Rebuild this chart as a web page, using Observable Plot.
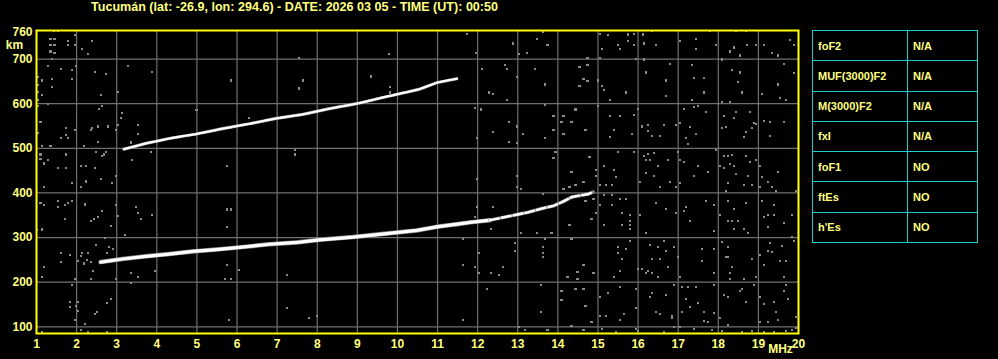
<!DOCTYPE html>
<html><head><meta charset="utf-8">
<script src="https://cdn.jsdelivr.net/npm/d3@7"></script>
<script src="https://cdn.jsdelivr.net/npm/@observablehq/plot@0.6"></script>
<style>
html,body{margin:0;padding:0;background:#000;}
#wrap{position:relative;width:998px;height:359px;overflow:hidden;background:#000;font-family:"Liberation Sans",Arial,sans-serif;font-weight:bold;color:#ffff80;}
#title{position:absolute;left:0;top:0;white-space:nowrap;font-size:12px;line-height:14px;transform-origin:0 0;}
#tbl{position:absolute;left:812px;top:30px;border-collapse:collapse;width:166px;height:213px;}
#tbl td{border:1px solid #20d0d0;font-size:11px;padding:0 0 0 5px;height:29px;color:#ffff80;}
#chart{position:absolute;left:0;top:0;}
</style></head>
<body><div id="wrap"><div id="chart"></div><div id="title"></div><table id="tbl"></table></div>
<script>
const titleText = "Tucumán (lat: -26.9, lon: 294.6) - DATE: 2026 03 05 - TIME (UT): 00:50";
const xTicks = [1,2,3,4,5,6,7,8,9,10,11,12,13,14,15,16,17,18,19,20];
const yGrid = [100,200,300,400,500,600,700];
const yTicks = [100,200,300,400,500,600,700,760];
const tableNames = ["foF2","MUF(3000)F2","M(3000)F2","fxI","foF1","ftEs","h'Es"];
const tableValues = ["N/A","N/A","N/A","N/A","NO","NO","NO"];

// F-layer echo traces (MHz, km)
const traceLowF = [2.60,3.14,3.73,4.31,4.89,5.48,6.06,6.81,7.48,8.06,8.89,9.73,10.48,10.98,11.48,11.81,12.31];
const traceLowH = [245,252,258,263,269,273,278,285,289,295,301,309,316,324,330,334,339];
const traceTailF = [12.31,12.96,13.23,13.60,13.89,14.14,14.35,14.73,14.88];
const traceTailH = [339,351,356,365,371,381,391,397,402];
const traceHighF = [3.18,3.73,4.31,4.98,5.64,6.31,6.98,7.64,8.31,8.98,9.64,10.14,10.53,10.98,11.48];
const traceHighH = [498,511,522,532,544,555,567,576,589,600,614,624,632,647,656];

// scattered noise echoes (MHz, km)
const noise = [
[1.43,762],[1.54,762],[1.96,753],[1.35,744],[1.45,744],[1.79,740],[1.35,731],[1.45,731],[1.79,731],[1.96,731],[2.14,722],[2.29,712],[1.35,717],[1.45,714],[2.39,740],[1.39,701],[1.29,684],[1.60,678],[1.89,675],[1.99,684],[2.46,671],[2.74,666],[3.29,684],[3.89,671],[1.04,660],[1.14,652],[1.39,656],[1.89,655],[1.39,637],[1.04,641],[1.04,626],[1.14,620],[1.29,600],[1.04,608],[1.04,595],[2.60,620],[3.04,626],[2.56,589],[2.64,594],[3.14,580],[3.10,567],[3.04,553],[1.10,558],[1.04,535],[1.74,546],[1.96,541],[1.74,529],[1.60,523],[1.79,523],[2.35,541],[2.39,546],[2.54,549],[2.79,549],[2.98,541],[3.54,552],[3.54,533],[2.54,514],[2.18,505],[1.14,505],[1.35,505],[1.74,486],[1.10,486],[1.10,477],[1.29,473],[1.19,466],[3.35,513],[3.85,491],[3.39,473],[2.49,491],[2.68,486],[2.64,482],[2.73,492],[1.54,455],[1.74,455],[2.10,460],[2.24,460],[2.46,455],[2.60,432],[2.24,427],[2.99,438],[4.99,585],[5.85,652],[6.29,567],[7.54,703],[7.64,652],[7.54,634],[7.45,496],[7.45,486],[5.74,460],[9.79,712],[9.35,661],[9.81,637],[9.81,625],
[11.74,757],[13.64,760],[15.04,757],[15.24,753],[15.74,755],[15.89,757],[16.12,755],[16.35,762],[17.79,762],[18.44,762],[18.69,762],[12.89,735],[13.49,744],[13.74,731],[13.04,712],[13.24,714],[11.96,713],[14.74,703],[15.04,703],[15.10,723],[15.49,731],[15.54,723],[15.74,740],[15.89,731],[16.14,735],[16.44,731],[17.04,740],[17.44,744],[17.44,722],[17.94,731],[18.29,717],[18.39,726],[18.54,708],[18.71,731],[18.94,731],[19.14,731],[19.34,713],[19.49,708],[19.79,742],[19.89,731],[15.94,701],[16.14,699],[18.09,699],[12.11,678],[12.69,686],[12.74,678],[13.44,678],[12.99,660],[13.69,643],[14.54,682],[14.64,656],[14.74,650],[14.54,639],[14.74,687],[14.99,652],[15.09,639],[15.14,630],[15.29,608],[15.69,625],[16.19,670],[16.69,652],[16.79,688],[16.69,617],[17.34,686],[17.39,657],[17.64,657],[17.64,625],[17.34,608],[18.34,675],[18.54,670],[18.49,648],[18.59,625],[18.09,603],[18.29,603],[19.09,621],[19.49,643],[19.54,612],[19.64,688],[19.69,608],[19.89,668],[12.29,625],[12.39,621],[12.74,608],[11.94,590],[12.09,587],[13.69,598],[13.89,572],[14.14,572],[14.34,558],[14.09,558],[14.44,587],[14.69,541],[14.99,594],[15.29,573],[15.54,573],[15.89,575],[15.99,588],[15.39,541],[15.29,525],[15.84,532],[16.24,552],[16.24,538],[16.09,549],[16.64,552],[16.94,552],[16.34,527],[16.54,527],[17.14,589],[17.39,592],[17.49,595],[17.69,581],[17.29,547],[17.44,532],[17.19,523],[17.24,509],[17.04,556],[18.14,572],[18.39,567],[18.44,581],[18.79,581],[18.19,547],[18.09,545],[18.69,536],[18.84,545],[18.64,525],[18.89,557],[18.94,554],[19.14,561],[19.29,558],[19.64,558],[19.29,527],[13.14,532],[12.79,558],[12.39,536],[12.99,549],[12.79,514],[13.69,523],[13.89,541],[14.14,532],[11.99,523],[11.99,432],[12.99,438],[12.99,511],[13.94,491],[13.89,478],[14.79,480],[15.49,491],[15.89,491],[16.14,482],[16.24,487],[16.39,489],[16.19,473],[16.29,473],[16.49,460],[16.74,473],[16.99,491],[17.04,473],[17.14,469],[17.49,460],[17.94,496],[18.14,482],[18.24,482],[18.34,485],[18.69,482],[18.29,465],[18.39,460],[18.14,456],[18.04,460],[18.79,469],[18.94,473],[19.04,460],[14.34,447],[14.94,451],[15.14,460],[15.39,451],[15.44,435],[14.94,438],[16.19,444],[16.39,438],[17.39,438],[17.74,447],[18.44,442],[18.74,438],[19.09,435],[19.49,447],
[1.19,413],[1.89,422],[2.10,413],[2.24,424],[2.89,422],[1.10,377],[1.19,372],[1.54,382],[1.54,368],[1.70,373],[1.79,377],[1.89,382],[2.20,374],[2.99,373],[3.49,368],[2.64,359],[2.54,346],[2.44,342],[2.35,337],[3.04,348],[3.54,355],[3.61,342],[3.89,351],[1.70,342],[2.85,326],[1.14,318],[1.01,316],[3.20,306],[2.70,299],[2.49,283],[2.81,278],[2.91,274],[2.75,265],[1.60,266],[1.84,261],[1.60,245],[2.14,266],[2.10,258],[2.29,266],[2.27,249],[2.19,242],[2.35,245],[2.04,248],[1.19,234],[1.14,212],[1.95,207],[2.35,207],[2.40,225],[2.99,207],[3.35,221],[3.54,212],[3.35,198],[3.95,225],[1.89,194],[1.84,156],[1.84,145],[2.04,156],[2.04,136],[1.99,146],[2.75,154],[2.85,163],[2.50,134],[2.45,129],[1.95,116],[2.20,107],[2.10,93],[2.29,88],[2.75,88],[1.14,89],[5.75,363],[5.85,363],[5.75,324],[5.75,239],[6.04,228],[5.70,207],[5.85,207],[7.25,216],[7.25,143],[7.79,120],[7.99,125],[5.79,116],
[13.09,409],[12.99,413],[14.14,409],[14.29,413],[14.44,418],[14.64,424],[15.04,418],[15.19,418],[15.34,418],[16.04,424],[16.54,413],[16.79,424],[16.94,413],[17.04,422],[18.24,422],[18.64,418],[18.84,418],[19.04,413],[19.24,424],[19.34,413],[19.44,404],[19.94,404],[13.64,398],[14.74,396],[15.14,395],[15.34,395],[14.89,386],[14.69,382],[15.04,373],[15.34,373],[15.54,386],[15.69,386],[16.44,377],[16.69,364],[17.19,368],[17.14,359],[17.69,382],[17.89,373],[18.24,382],[18.39,364],[18.69,377],[19.09,382],[19.39,373],[18.19,404],[18.04,350],[18.24,337],[18.34,337],[18.49,337],[18.39,319],[18.64,319],[18.74,310],[19.14,346],[19.24,350],[19.39,350],[19.24,324],[19.64,333],[19.84,350],[19.84,301],[17.89,315],[17.29,337],[16.94,355],[16.19,310],[15.79,350],[15.79,337],[15.79,328],[15.79,319],[15.59,355],[16.04,350],[15.59,328],[15.14,328],[14.84,342],[14.94,355],[14.29,328],[13.84,310],[13.49,310],[13.09,310],[12.34,319],[11.94,346],[11.99,368],[12.39,368],[11.64,297],[14.34,297],[13.69,297],[12.94,288],[12.94,270],[12.04,266],[13.64,279],[13.64,266],[13.64,257],[11.64,239],[11.94,234],[12.64,234],[12.34,221],[12.54,216],[12.04,221],[14.64,239],[14.49,223],[14.49,207],[14.24,212],[14.89,221],[15.49,279],[15.49,266],[15.59,252],[15.69,274],[15.79,292],[15.54,225],[15.39,212],[15.54,190],[15.99,230],[16.09,230],[16.19,221],[16.29,283],[16.34,252],[16.49,279],[16.54,252],[16.64,292],[16.69,270],[16.74,234],[16.89,279],[16.99,257],[16.24,225],[16.34,221],[16.49,212],[17.04,212],[17.59,274],[17.59,248],[17.89,274],[17.89,221],[18.09,290],[18.24,279],[18.19,257],[18.24,257],[18.34,234],[18.29,221],[18.29,207],[18.64,207],[18.84,252],[18.94,212],[19.14,239],[19.24,270],[19.34,268],[19.54,248],[19.59,281],[19.64,212],[19.69,248],[19.89,292],[19.29,288],[19.04,261],[12.24,185],[13.59,193],[14.09,181],[14.44,185],[14.64,185],[15.04,167],[15.24,176],[15.94,185],[15.94,143],[15.64,129],[15.04,125],[15.19,125],[15.54,116],[14.84,111],[14.69,147],[14.34,102],[13.59,134],[14.09,161],[11.64,116],[13.04,100],[13.19,93],[13.74,93],[16.29,167],[16.34,176],[16.69,172],[16.89,194],[17.09,190],[17.24,190],[17.44,190],[17.19,163],[17.29,145],[16.84,125],[16.84,120],[17.09,134],[16.54,129],[16.44,134],[17.49,154],[17.64,134],[17.89,131],[17.74,111],[17.89,194],[18.14,172],[18.24,167],[18.54,181],[18.59,185],[18.69,156],[18.89,194],[19.04,167],[19.14,151],[19.39,156],[19.64,181],[19.69,194],[19.74,163],[19.44,134],[19.49,116],[19.24,111],[19.04,111],[18.24,105],[18.04,120],[17.64,113],[16.89,100],[17.04,100],[17.39,96],[17.84,93],[18.09,91],[18.59,89],[18.84,91],[19.14,89],[19.39,89],[19.69,91],[19.84,93],[19.94,98],[19.94,122],[14.64,93],[15.09,96],[15.44,89],[16.64,89],[15.94,96],[15.99,91]
];

const lowData = traceLowF.map((f,i)=>({f, h: traceLowH[i]}));
const tailData = traceTailF.map((f,i)=>({f, h: traceTailH[i]}));
const highData = traceHighF.map((f,i)=>({f, h: traceHighH[i]}));
const noiseData = noise.map(([f,h])=>({f,h}));

const YEL = "#ffff80";
const plot = Plot.plot({
  width: 998, height: 359,
  marginLeft: 36, marginRight: 200, marginTop: 30, marginBottom: 26,
  style: {background: "#000", color: YEL, fontFamily: "'Liberation Sans', Arial, sans-serif", fontWeight: "bold", fontSize: "12px"},
  x: {domain: [1, 20]},
  y: {domain: [85, 764]},
  marks: [
    Plot.gridX(xTicks, {stroke: "#707070", strokeOpacity: 1, strokeWidth: 1.2}),
    Plot.gridY(yGrid, {stroke: "#707070", strokeOpacity: 1, strokeWidth: 1.2}),
    Plot.dot(noiseData, {x: "f", y: "h", symbol: "square", r: 1.2, fill: "#8a8a8a", stroke: null, shapeRendering: "crispEdges"}),
    Plot.line(lowData, {x: "f", y: "h", stroke: "#888", strokeWidth: 4.5}),
    Plot.line(lowData, {x: "f", y: "h", stroke: "#fff", strokeWidth: 3.2}),
    Plot.line(tailData, {x: "f", y: "h", stroke: "#888", strokeWidth: 3.5}),
    Plot.line(tailData, {x: "f", y: "h", stroke: "#fff", strokeWidth: 2.4, strokeDasharray: "9,3"}),
    Plot.line(highData, {x: "f", y: "h", stroke: "#888", strokeWidth: 3.2}),
    Plot.line(highData, {x: "f", y: "h", stroke: "#fff", strokeWidth: 2.3, strokeDasharray: "14,2"}),
    Plot.frame({stroke: "#ffff00", strokeWidth: 2}),
    Plot.axisX(xTicks, {tickSize: 0, tickPadding: 6, fill: YEL, fontSize: 12, fontWeight: "bold", label: null, tickFormat: d => String(d)}),
    Plot.axisY(yTicks, {tickSize: 0, tickPadding: 4, fill: YEL, fontSize: 12, fontWeight: "bold", label: null, tickFormat: d => String(d)}),
    Plot.text(["km"], {frameAnchor: "top-left", dx: -22, dy: 10, fill: YEL, fontSize: 12, fontWeight: "bold", textAnchor: "middle"}),
    Plot.text(["MHz"], {frameAnchor: "bottom-right", dx: -18, dy: 19, fill: YEL, fontSize: 12, fontWeight: "bold", textAnchor: "middle"})
  ]
});
document.getElementById("chart").appendChild(plot);

const t = document.getElementById("title");
t.textContent = titleText;
const w = t.getBoundingClientRect().width;
const target = 407;
t.style.transform = `translate(91px, 0px) scaleX(${target / w})`;

const tbl = document.getElementById("tbl");
tableNames.forEach((n, i) => {
  const tr = document.createElement("tr");
  const a = document.createElement("td"); a.textContent = n; a.style.width = "89px";
  const b = document.createElement("td"); b.textContent = tableValues[i];
  tr.appendChild(a); tr.appendChild(b); tbl.appendChild(tr);
});
</script></body></html>
